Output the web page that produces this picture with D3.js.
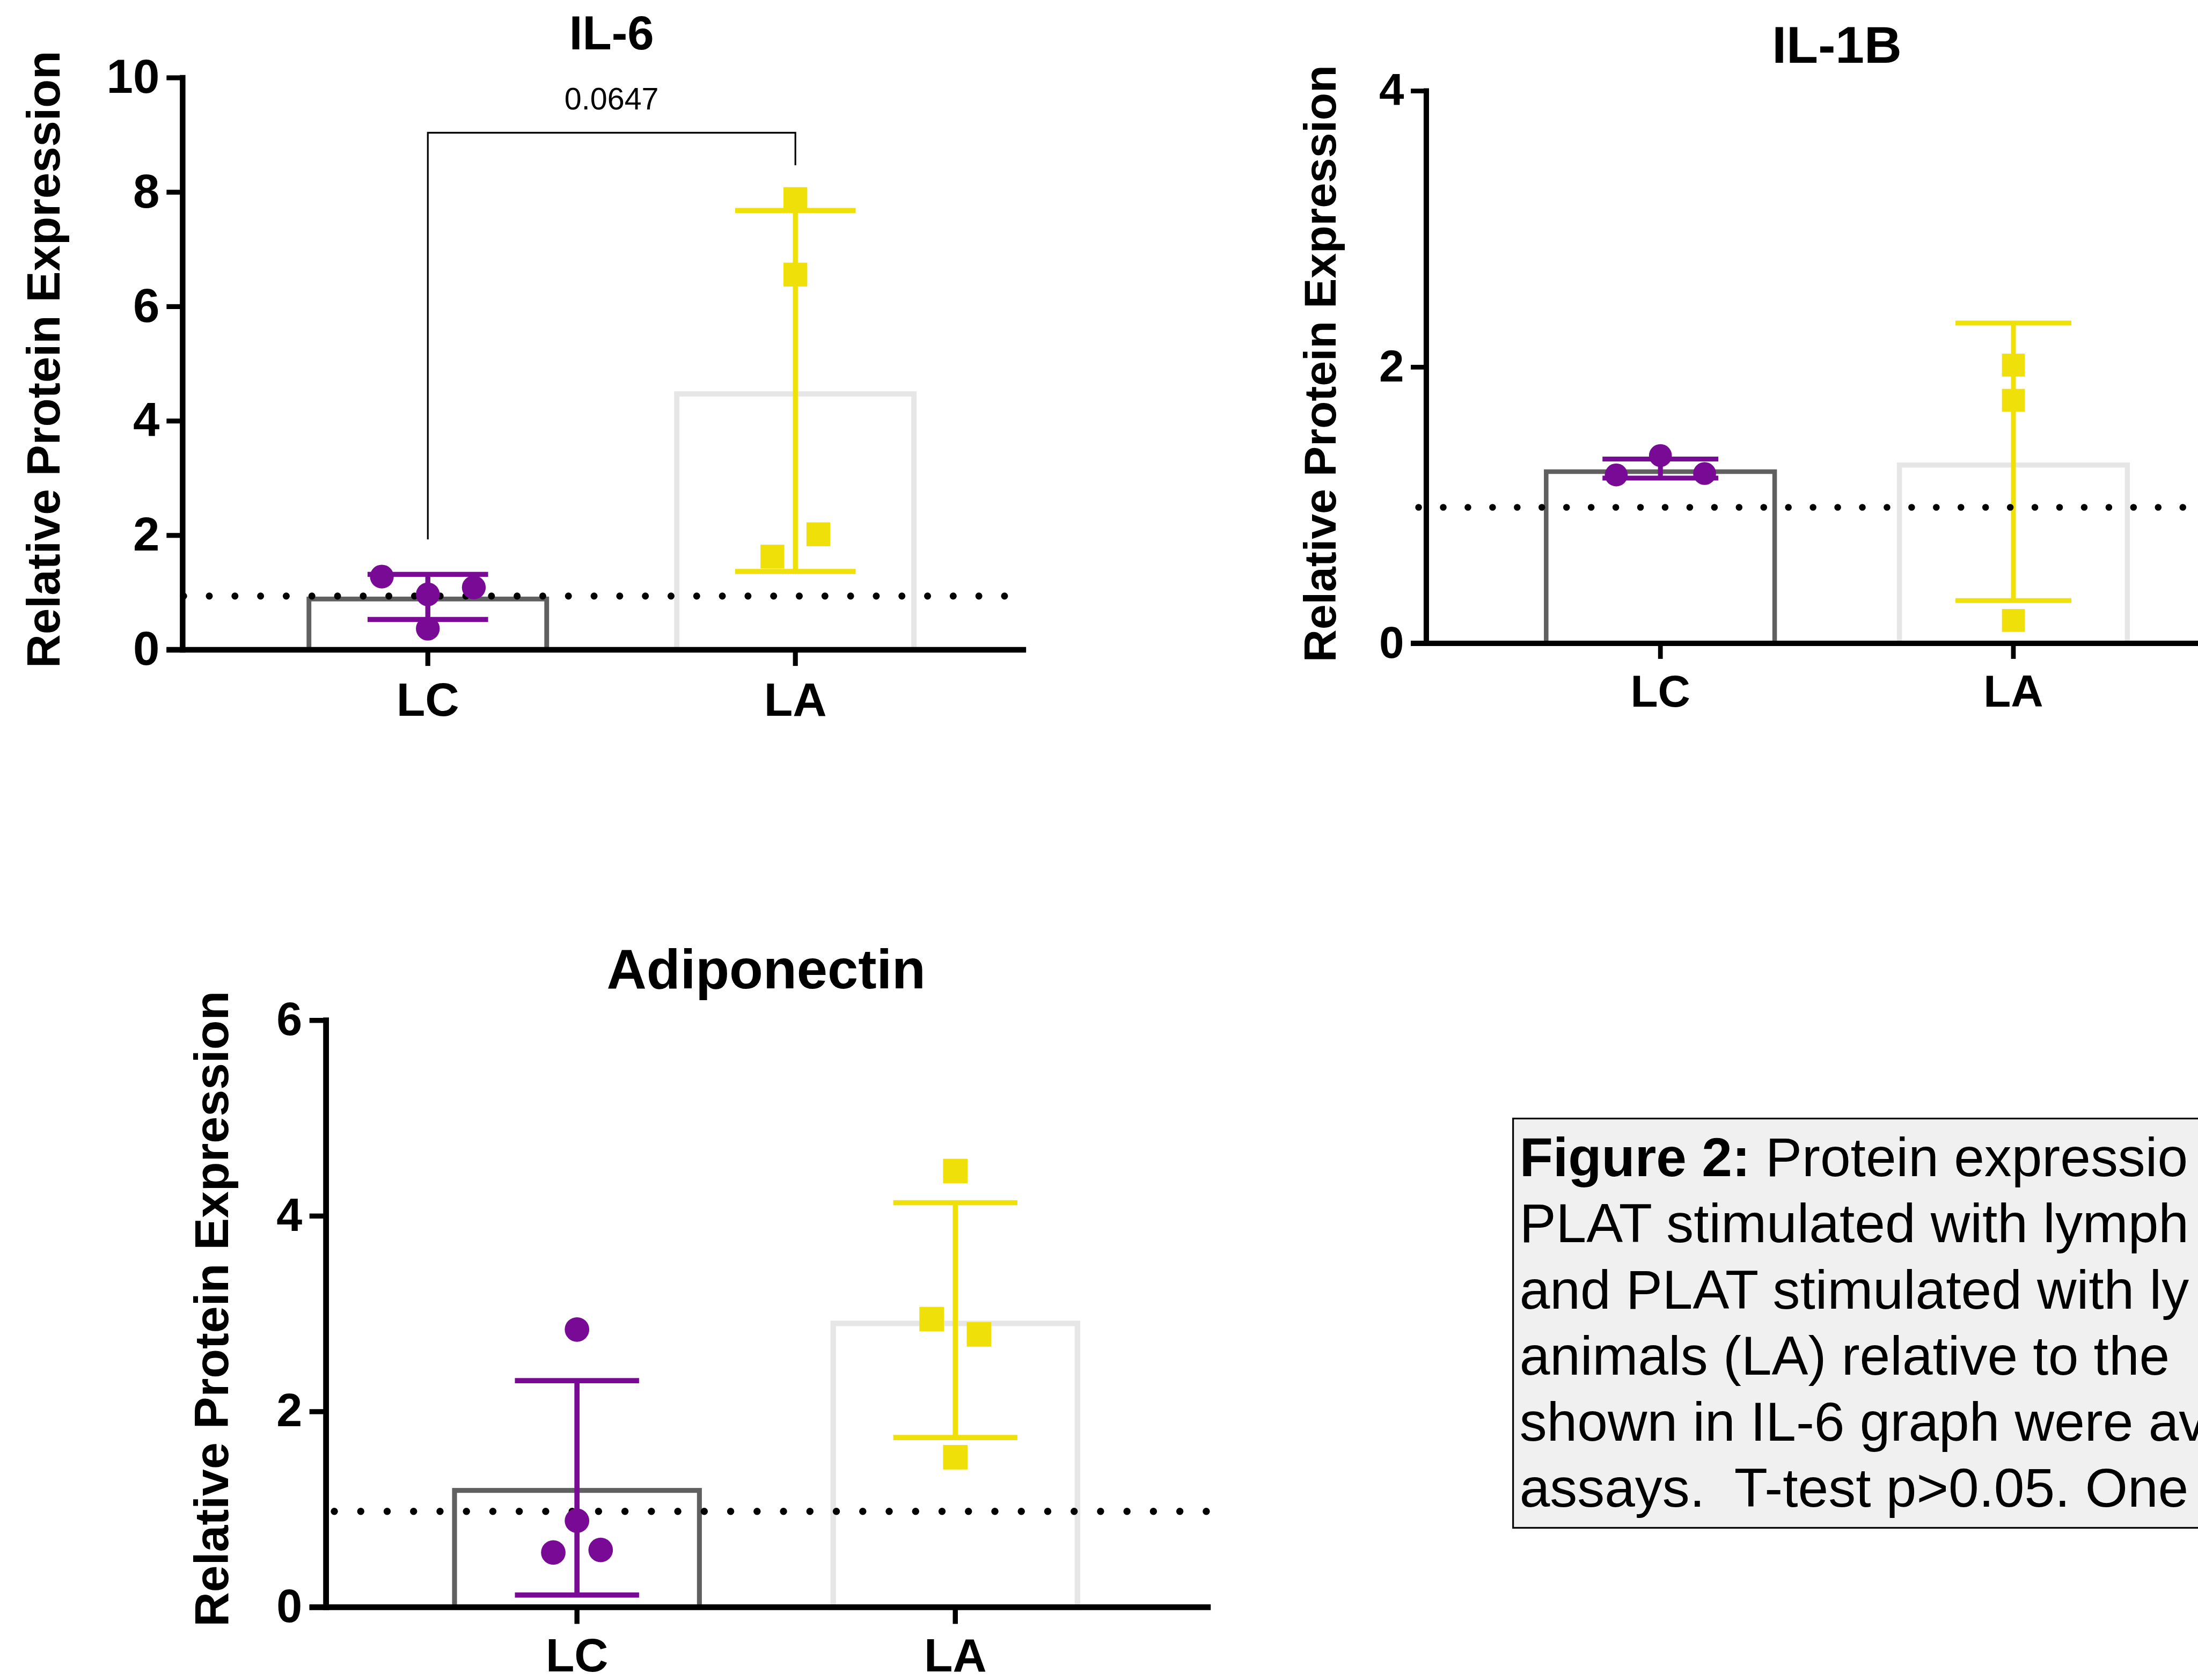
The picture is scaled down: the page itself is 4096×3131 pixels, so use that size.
<!DOCTYPE html>
<html><head><meta charset="utf-8">
<script src="https://cdn.jsdelivr.net/npm/d3@7"></script>
<style>html,body{margin:0;padding:0;background:#fff;overflow:hidden}svg{display:block}</style>
</head><body>
<svg id="c" width="4096" height="3131" viewBox="0 0 1568 1198.57"></svg>
<script>
// ---------- data ----------
const categories = ["LC", "LA"];
const yAxisLabel = "Relative Protein Expression";

const il6Ticks = [0, 2, 4, 6, 8, 10];
const il6Means = [0.93, 4.52];
const il6ErrLow = [0.53, 1.37];
const il6ErrHigh = [1.32, 7.68];
const il6LC = [1.28, 0.97, 1.09, 0.37];
const il6LA = [7.88, 6.56, 1.63, 2.02];
const il6LCJitter = [-2, 0, 2, 0];
const il6LAJitter = [0, 0, -1, 1];
const il6Ref = 0.94;
const il6BracketY = [1.93, 9.04, 8.47];
const il6PValue = "0.0647";
const il6PValueY = 9.45;

const il1bTicks = [0, 2, 4];
const il1bMeans = [1.26, 1.31];
const il1bErrLow = [1.197, 0.31];
const il1bErrHigh = [1.335, 2.32];
const il1bLC = [1.22, 1.36, 1.23];
const il1bLA = [2.015, 1.76, 0.166];
const il1bLCJitter = [-2, 0, 2];
const il1bLAJitter = [0, 0, 0];
const il1bRef = 0.985;

const adipoTicks = [0, 2, 4, 6];
const adipoMeans = [1.22, 2.93];
const adipoErrLow = [0.125, 1.735];
const adipoErrHigh = [2.317, 4.136];
const adipoLC = [2.84, 0.885, 0.56, 0.586];
const adipoLA = [4.46, 2.946, 2.79, 1.534];
const adipoLCJitter = [0, 0, -1, 1];
const adipoLAJitter = [0, -1, 1, 0];
const adipoRef = 0.98;

const captionBold = "Figure 2:";
const captionLines = [
  " Protein expressio",
  "PLAT stimulated with lymph",
  "and PLAT stimulated with ly",
  "animals (LA) relative to the",
  "shown in IL-6 graph were av",
  "assays.  T-test p>0.05. One"
];

// ---------- layout ----------
const FONT = "'Liberation Sans', Arial, Helvetica, sans-serif";
const PURPLE = "#780a96", YELLOW = "#f0e00a", DARK = "#606060", LIGHT = "#e6e6e6";

const panels = [
  { title: "IL-6", ticks: il6Ticks, ymax: 10, means: il6Means, lo: il6ErrLow, hi: il6ErrHigh,
    pts: [il6LC, il6LA], jit: [il6LCJitter, il6LAJitter], ref: il6Ref,
    s: 1, ox: 130.3, y0: 463.6, yTop: 55.5, cx: [305.2, 567.4], xEnd: 732, dotX: [131, 720],
    titleY: 35.1, titleFs: 34, ylabX: 42.4, ylabY: 256.4, ylabFs: 33.3, tickFs: 34, xlabFs: 33.6, xlabDy: 47.1, bracket: true },
  { title: "IL-1B", ticks: il1bTicks, ymax: 4, means: il1bMeans, lo: il1bErrLow, hi: il1bErrHigh,
    pts: [il1bLC, il1bLA], jit: [il1bLCJitter, il1bLAJitter], ref: il1bRef,
    s: 0.961, ox: 1017.5, y0: 459, yTop: 64.9, cx: [1184.5, 1436.3], xEnd: 1600, dotX: [1012, 1600],
    titleY: 44.8, titleFs: 37, ylabX: 953, ylabY: 259.4, ylabFs: 32.2, tickFs: 32, xlabFs: 32, xlabDy: 45.3 },
  { title: "Adiponectin", ticks: adipoTicks, ymax: 6, means: adipoMeans, lo: adipoErrLow, hi: adipoErrHigh,
    pts: [adipoLC, adipoLA], jit: [adipoLCJitter, adipoLAJitter], ref: adipoRef,
    s: 1.03, ox: 232.6, y0: 1146.7, yTop: 728, cx: [411.6, 681.5], xEnd: 863.7, dotX: [238.5, 879],
    titleY: 705.3, titleFs: 39.4, ylabX: 162.6, ylabY: 933.8, ylabFs: 34.3, tickFs: 33, xlabFs: 33.5, xlabDy: 45.8 }
];

const svg = d3.select("#c");

panels.forEach(p => {
  const s = p.s;
  const g = svg.append("g");
  const x = d3.scalePoint().domain(categories).range(p.cx);
  const y = d3.scaleLinear().domain([0, p.ymax]).range([p.y0, p.yTop]);
  const tickLen = 11.5 * s;
  const barOuter = 173 * s;
  const barSW = [3.4 * s, 3.8 * s];
  const barColors = [DARK, LIGHT];
  const markColors = [PURPLE, YELLOW];

  // bars
  g.selectAll("rect.bar").data(categories).join("rect").attr("class", "bar")
    .attr("x", (d, i) => x(d) - barOuter / 2 + barSW[i] / 2)
    .attr("y", (d, i) => y(p.means[i]) + barSW[i] / 2)
    .attr("width", (d, i) => barOuter - barSW[i])
    .attr("height", (d, i) => y(0) - y(p.means[i]) - barSW[i] / 2)
    .attr("fill", "#fff").attr("stroke", (d, i) => barColors[i]).attr("stroke-width", (d, i) => barSW[i]);

  // error bars
  const capW = 86 * s, ew = 3.6 * s;
  categories.forEach((c, i) => {
    const eg = g.append("g").attr("stroke", markColors[i]).attr("stroke-width", ew);
    eg.append("line").attr("x1", x(c)).attr("x2", x(c)).attr("y1", y(p.lo[i])).attr("y2", y(p.hi[i]));
    [p.lo[i], p.hi[i]].forEach(v => {
      eg.append("line").attr("x1", x(c) - capW / 2).attr("x2", x(c) + capW / 2).attr("y1", y(v)).attr("y2", y(v));
    });
  });

  // dotted reference line
  g.append("line").attr("x1", p.dotX[0]).attr("x2", p.dotX[1]).attr("y1", y(p.ref)).attr("y2", y(p.ref))
    .attr("stroke", "#000").attr("stroke-width", 5 * s).attr("stroke-linecap", "round")
    .attr("stroke-dasharray", `0 ${18.3 * s}`);

  // points
  const jitU = 16.4 * s;
  const r = 8.5 * s, sq = 17 * s;
  g.selectAll("circle.pt").data(p.pts[0]).join("circle").attr("class", "pt")
    .attr("cx", (d, j) => x(categories[0]) + p.jit[0][j] * jitU).attr("cy", d => y(d))
    .attr("r", r).attr("fill", PURPLE);
  g.selectAll("rect.pt").data(p.pts[1]).join("rect").attr("class", "pt")
    .attr("x", (d, j) => x(categories[1]) + p.jit[1][j] * jitU - sq / 2).attr("y", d => y(d) - sq / 2)
    .attr("width", sq).attr("height", sq).attr("fill", YELLOW);

  // axes
  const ya = g.append("g").attr("transform", `translate(${p.ox},0)`)
    .call(d3.axisLeft(y).tickValues(p.ticks).tickFormat(d3.format("d")).tickSize(tickLen).tickSizeOuter(0).tickPadding(5 * s).offset(0));
  ya.select(".domain").attr("stroke", "#000").attr("stroke-width", 4 * s).attr("stroke-linecap", "square");
  ya.selectAll(".tick line").attr("stroke", "#000").attr("stroke-width", 3.5 * s);
  ya.selectAll("text").attr("font-size", p.tickFs).attr("font-weight", "bold").attr("font-family", FONT).attr("fill", "#000");

  const xa = g.append("g").attr("transform", `translate(0,${p.y0})`)
    .call(d3.axisBottom(x).tickSize(tickLen).tickSizeOuter(0).offset(0));
  xa.select(".domain").remove();
  xa.selectAll(".tick line").attr("stroke", "#000").attr("stroke-width", 3.5 * s);
  xa.selectAll("text").attr("y", p.xlabDy).attr("dy", 0)
    .attr("font-size", p.xlabFs).attr("font-weight", "bold").attr("font-family", FONT).attr("fill", "#000");
  g.append("line").attr("x1", p.ox - tickLen).attr("x2", p.xEnd).attr("y1", p.y0).attr("y2", p.y0)
    .attr("stroke", "#000").attr("stroke-width", 4 * s);

  // title
  g.append("text").attr("x", (x(categories[0]) + x(categories[1])) / 2).attr("y", p.titleY)
    .attr("text-anchor", "middle").attr("font-family", FONT).attr("font-weight", "bold")
    .attr("font-size", p.titleFs).attr("fill", "#000").text(p.title);

  // y axis label
  g.append("text").attr("transform", `translate(${p.ylabX},${p.ylabY}) rotate(-90)`)
    .attr("text-anchor", "middle").attr("font-family", FONT).attr("font-weight", "bold")
    .attr("font-size", p.ylabFs).attr("fill", "#000").text(yAxisLabel);

  // significance bracket
  if (p.bracket) {
    const xl = x(categories[0]), xr = x(categories[1]);
    const path = d3.path();
    path.moveTo(xl, y(il6BracketY[0]));
    path.lineTo(xl, y(il6BracketY[1]));
    path.lineTo(xr, y(il6BracketY[1]));
    path.lineTo(xr, y(il6BracketY[2]));
    g.append("path").attr("d", path.toString()).attr("fill", "none").attr("stroke", "#000").attr("stroke-width", 1.2);
    g.append("text").attr("x", (xl + xr) / 2).attr("y", y(il6PValueY)).attr("text-anchor", "middle")
      .attr("font-family", FONT).attr("font-size", 22).attr("fill", "#000").text(il6PValue);
  }
});

// caption box
const cap = svg.append("g");
cap.append("rect").attr("x", 1079.4).attr("y", 798).attr("width", 600).attr("height", 292)
  .attr("fill", "#f0f0f0").attr("stroke", "#000").attr("stroke-width", 1.2);
const capText = cap.append("text").attr("font-family", FONT).attr("font-size", 39).attr("fill", "#000")
  .style("white-space", "pre");
captionLines.forEach((line, i) => {
  const t = capText.append("tspan").attr("x", 1084).attr("y", 839.2 + i * 47.17);
  if (i === 0) {
    t.append("tspan").attr("font-weight", "bold").text(captionBold);
    capText.append("tspan").text(line);
  } else {
    t.text(line);
  }
});
</script>
</body></html>
